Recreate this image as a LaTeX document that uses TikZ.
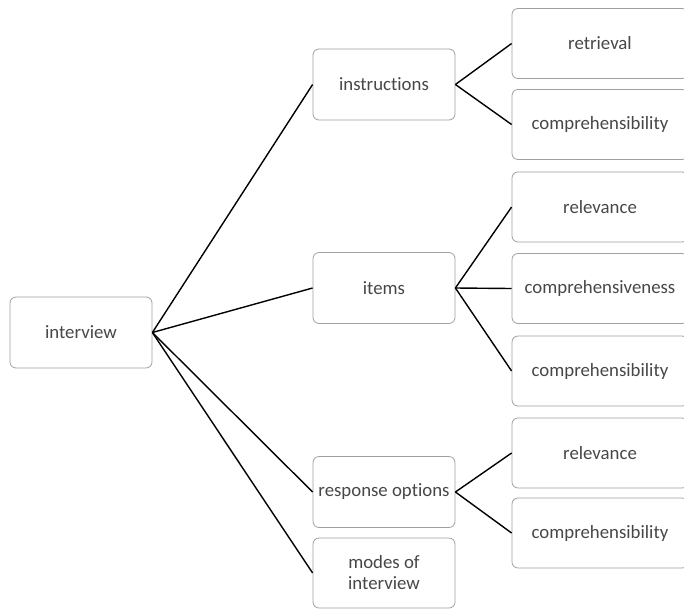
\documentclass[tikz,border=0pt]{standalone}
\usepackage{fontspec}
\setmainfont{Carlito}[Ligatures={NoCommon}]
\definecolor{boxline}{HTML}{A0A0A0}
\definecolor{boxtext}{HTML}{474747}
\tikzset{
  >=latex,
}
\tikzstyle{box}=[draw=boxline,line width=.8pt,rounded corners=6pt,fill=white,
  minimum width=142pt,minimum height=71pt,inner sep=1pt,align=center,
  text=boxtext,font=\fontsize{18.8}{21}\selectfont]
\tikzstyle{leaf}=[box,minimum width=176pt,minimum height=70pt]
\tikzstyle{link}=[line width=1.4pt,black]

\begin{document}
\begin{tikzpicture}[x=1pt,y=-1pt]
        \useasboundingbox (0,0) rectangle (684,608);
        \clip (0,0) rectangle (684,608);
        \node[box] (interview) at (81,332.5) {interview};
        \node[box] (instr) at (384,84.5) {instructions};
        \node[box] (items) at (384,288) {items};
        \node[box] (resp) at (384,492) {response options};
        \node[box,minimum height=70pt] (modes) at (384,573) {modes of\\interview};
        \node[leaf] (retr) at (600,43.5) {retrieval};
        \node[leaf] (compA) at (600,124.5) {comprehensibility};
        \node[leaf] (relA) at (600,207) {relevance};
        \node[leaf] (compv) at (600,288.5) {comprehensiveness};
        \node[leaf] (compB) at (600,371) {comprehensibility};
        \node[leaf] (relB) at (600,453) {relevance};
        \node[leaf] (compC) at (600,533) {comprehensibility};
        \draw[link] (interview.east)--(instr.west);
        \draw[link] (interview.east)--(items.west);
        \draw[link] (interview.east)--(resp.west);
        \draw[link] (interview.east)--(modes.west);
        \draw[link] (instr.east)--(retr.west);
        \draw[link] (instr.east)--(compA.west);
        \draw[link] (items.east)--(relA.west);
        \draw[link] (items.east)--(compv.west);
        \draw[link] (items.east)--(compB.west);
        \draw[link] (resp.east)--(relB.west);
        \draw[link] (resp.east)--(compC.west);
      \end{tikzpicture}
\end{document}
